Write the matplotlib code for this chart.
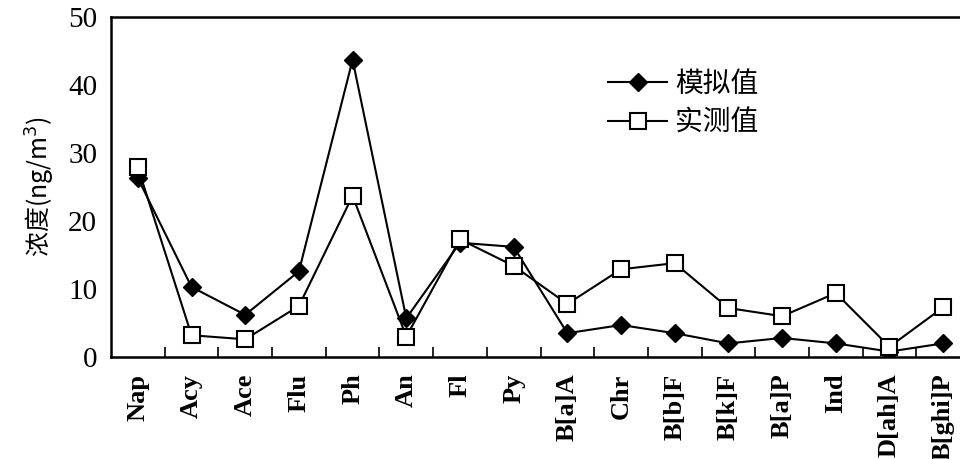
import numpy as np
import matplotlib
matplotlib.use("Agg")
import matplotlib.pyplot as plt
from matplotlib.ticker import FixedLocator

plt.rcParams['font.family'] = ['Liberation Serif', 'Noto Sans CJK SC', 'DejaVu Sans']

compounds = ["Nap", "Acy", "Ace", "Flu", "Ph", "An", "Fl", "Py", "B[a]A", "Chr",
             "B[b]F", "B[k]F", "B[a]P", "Ind", "D[ah]A", "B[ghi]P"]
simulated = [26.3, 10.3, 6.2, 12.6, 43.7, 5.7, 16.8, 16.2, 3.5, 4.7,
             3.5, 2.0, 2.8, 2.0, 0.8, 2.0]
measured = [27.9, 3.2, 2.6, 7.5, 23.7, 3.0, 17.3, 13.4, 7.8, 12.9,
            13.8, 7.2, 6.0, 9.4, 1.5, 7.3]

x = np.arange(len(compounds))

fig = plt.figure(figsize=(9.6, 4.59), dpi=100)
# right edge of the frame runs off the image, like the scan
ax = fig.add_axes([111/960, 1 - 357/459, (970 - 111)/960, (357 - 17)/459])

ax.plot(x, simulated, color="black", lw=1.5, marker="D", ms=9,
        mfc="black", mec="black", label="模拟值")
ax.plot(x, measured, color="black", lw=1.5, marker="s", ms=11,
        mfc="white", mec="black", mew=1.5, label="实测值")

ax.set_xlim(-0.5, len(compounds) - 0.5)
ax.set_ylim(0, 50)
ax.set_yticks(np.arange(0, 51, 10))
ax.tick_params(axis="y", length=0, labelsize=21, pad=10)

ax.set_xticks(x)
ax.set_xticklabels(compounds, rotation=90, fontsize=19, fontweight="bold")
ax.tick_params(axis="x", which="major", length=0, pad=12)
ax.xaxis.set_minor_locator(FixedLocator(np.arange(0.5, len(compounds) - 0.5, 1)))
ax.tick_params(axis="x", which="minor", direction="in", length=7, width=1.2)

for s in ax.spines.values():
    s.set_linewidth(1.8)
ax.spines["right"].set_visible(False)

ax.set_ylabel("浓度(ng/m$^3$)", fontsize=18, labelpad=8,
              family=['Noto Sans CJK SC', 'DejaVu Sans'])

ax.legend(loc="upper left", bbox_to_anchor=(0.55, 0.92), frameon=False,
          prop={'family': 'Noto Sans CJK SC', 'size': 20},
          handlelength=2.1, handletextpad=0.3, labelspacing=0.3)

fig.savefig("out.png", dpi=100)
